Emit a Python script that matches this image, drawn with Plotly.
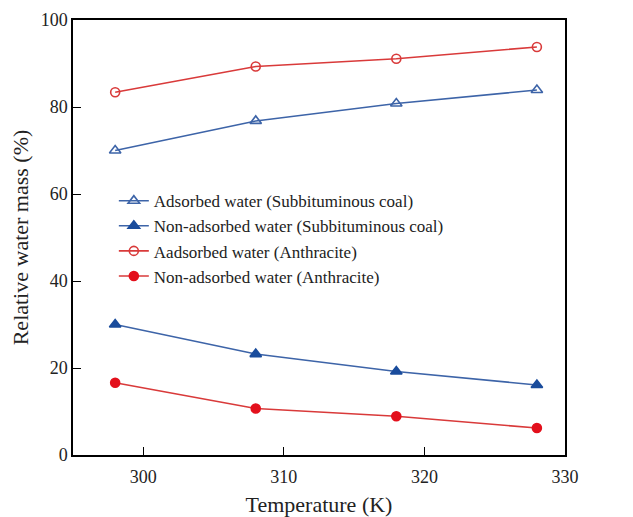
import plotly.graph_objects as go

# Temperature (K) and relative water mass (%) for each water type
temperature = [298, 308, 318, 328]
adsorbed_subbituminous = [70.0, 76.8, 80.8, 83.9]
non_adsorbed_subbituminous = [30.0, 23.2, 19.2, 16.1]
adsorbed_anthracite = [83.4, 89.3, 91.1, 93.8]
non_adsorbed_anthracite = [16.6, 10.7, 8.9, 6.2]

x_ticks = [300, 310, 320, 330]
y_ticks = [0, 20, 40, 60, 80, 100]

BLUE_LINE = "#3d64a8"
BLUE_FILL = "#1a4c9c"
RED_LINE = "#d93a3a"
RED_FILL = "#e3101c"
FONT = "Liberation Serif, Times New Roman, serif"

fig = go.Figure()

series = [
    ("Adsorbed water (Subbituminous coal)", adsorbed_subbituminous,
     BLUE_LINE, "triangle-up-open", BLUE_LINE, 10),
    ("Non-adsorbed water (Subbituminous coal)", non_adsorbed_subbituminous,
     BLUE_LINE, "triangle-up", BLUE_FILL, 10),
    ("Aadsorbed water (Anthracite)", adsorbed_anthracite,
     RED_LINE, "circle-open", RED_LINE, 9),
    ("Non-adsorbed water (Anthracite)", non_adsorbed_anthracite,
     RED_LINE, "circle", RED_FILL, 9),
]

for name, values, line_color, symbol, marker_color, size in series:
    fig.add_trace(go.Scatter(
        x=temperature,
        y=values,
        name=name,
        mode="lines+markers",
        line=dict(color=line_color, width=1.6),
        marker=dict(symbol=symbol, size=size, color=marker_color,
                    line=dict(color=marker_color, width=1.6)),
    ))

axis_common = dict(
    showline=True,
    linecolor="black",
    linewidth=1.5,
    mirror=True,
    ticks="inside",
    ticklen=8,
    tickwidth=1.3,
    tickcolor="black",
    showgrid=False,
    zeroline=False,
    automargin=False,
    tickfont=dict(family=FONT, size=18, color="#222222"),
)

fig.update_layout(
    width=633,
    height=517,
    margin=dict(l=73, r=68, t=20, b=62),
    paper_bgcolor="white",
    plot_bgcolor="white",
    font=dict(family=FONT, color="#222222"),
    xaxis=dict(
        range=[295, 330],
        tickvals=x_ticks,
        ticklabelstandoff=5,
        title=dict(text="Temperature (K)", font=dict(family=FONT, size=22), standoff=12),
        **axis_common,
    ),
    yaxis=dict(
        range=[0, 100],
        tickvals=y_ticks,
        title=dict(text="Relative water mass (%)", font=dict(family=FONT, size=22), standoff=6),
        **axis_common,
    ),
    legend=dict(
        x=0.083,
        y=0.625,
        xanchor="left",
        yanchor="top",
        bgcolor="rgba(0,0,0,0)",
        font=dict(family=FONT, size=17, color="#222222"),
        tracegroupgap=0,
        itemwidth=30,
    ),
)

fig.write_html("out.html")
